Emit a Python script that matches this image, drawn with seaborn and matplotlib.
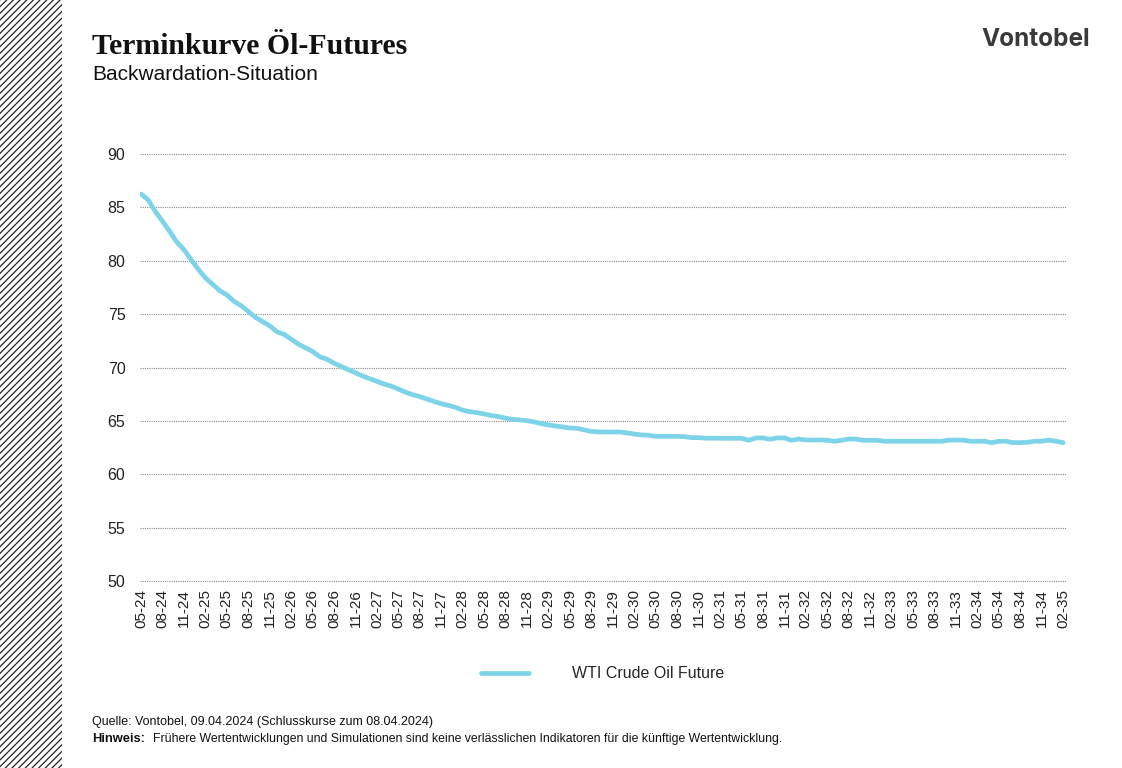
import matplotlib
matplotlib.use("Agg")
import matplotlib.pyplot as plt
import matplotlib.patches as mpatches
import seaborn as sns
import pandas as pd
import numpy as np

# ---- data ----
months = [p.strftime("%m-%y") for p in pd.period_range("2024-05", "2035-02", freq="M")]
wti = [
    86.25, 85.7, 84.6, 83.7, 82.75, 81.75, 81.04, 80.1, 79.2, 78.4,
    77.8, 77.2, 76.8, 76.2, 75.8, 75.25, 74.7, 74.3, 73.9, 73.35,
    73.1, 72.65, 72.2, 71.85, 71.5, 71.0, 70.78, 70.4, 70.1, 69.8,
    69.5, 69.2, 68.95, 68.7, 68.45, 68.25, 67.98, 67.68, 67.45, 67.27,
    67.05, 66.83, 66.6, 66.45, 66.27, 66.0, 65.86, 65.77, 65.65, 65.5,
    65.4, 65.25, 65.15, 65.08, 65.02, 64.9, 64.74, 64.62, 64.52, 64.43,
    64.33, 64.3, 64.15, 64.02, 63.96, 63.96, 63.96, 63.96, 63.87, 63.77,
    63.68, 63.65, 63.55, 63.55, 63.55, 63.55, 63.52, 63.43, 63.43, 63.38,
    63.37, 63.37, 63.37, 63.37, 63.37, 63.18, 63.4, 63.4, 63.28, 63.4,
    63.4, 63.18, 63.3, 63.21, 63.21, 63.21, 63.18, 63.09, 63.18, 63.3,
    63.3, 63.18, 63.18, 63.18, 63.09, 63.09, 63.09, 63.09, 63.09, 63.09,
    63.09, 63.09, 63.09, 63.2, 63.2, 63.2, 63.09, 63.09, 63.09, 62.96,
    63.09, 63.09, 62.96, 62.96, 63.0, 63.09, 63.09, 63.2, 63.09, 62.96,
]
series_name = "WTI Crude Oil Future"
y_ticks = [50, 55, 60, 65, 70, 75, 80, 85, 90]

title = "Terminkurve Öl-Futures"
subtitle = "Backwardation-Situation"
source = "Quelle: Vontobel, 09.04.2024 (Schlusskurse zum 08.04.2024)"
note_bold = "Hinweis:"
note = "Frühere Wertentwicklungen und Simulationen sind keine verlässlichen Indikatoren für die künftige Wertentwicklung."

n = min(len(months), len(wti))
df = pd.DataFrame({"pos": np.arange(n), "month": months[:n], "value": wti[:n], "series": series_name})

# ---- style ----
sns.set_theme(style="white")
plt.rcParams["font.family"] = ["Liberation Sans", "DejaVu Sans"]
plt.rcParams["hatch.linewidth"] = 0.9
line_color = "#7DD3E7"

fig = plt.figure(figsize=(11.22, 7.68), dpi=100)
ax = fig.add_axes([140 / 1122, 1 - 581 / 768, (1066 - 140) / 1122, (581 - 154) / 768])

sns.lineplot(data=df, x="pos", y="value", hue="series", palette=[line_color],
             linewidth=3.4, ax=ax, legend=False)

ax.set_ylim(50, 90)
ax.set_xlim(-0.15, n - 1 + 0.4)
ax.set_yticks(y_ticks)
ax.set_yticklabels([str(v) for v in y_ticks], fontsize=11.5, color="#222222")
tick_pos = list(range(0, n, 3))
ax.set_xticks(tick_pos)
ax.set_xticklabels([months[i] for i in tick_pos], rotation=90, fontsize=11, color="#222222")
ax.tick_params(axis="x", length=0, pad=6)
ax.tick_params(axis="y", length=0, pad=10.5)
ax.set_xlabel("")
ax.set_ylabel("")
for s in ax.spines.values():
    s.set_visible(False)
ax.yaxis.grid(True, linestyle=(0, (1, 1)), color="#8a8a8a", linewidth=0.8)
ax.xaxis.grid(False)
ax.set_axisbelow(True)
for gl in ax.get_ygridlines():
    gl.set_clip_on(False)

# legend
handle = plt.Line2D([], [], color=line_color, linewidth=3.4)
fig.legend([handle], [series_name], loc="center", bbox_to_anchor=(0.5375, 1 - 674 / 768),
           frameon=False, fontsize=11.5, handlelength=3.0, handletextpad=2.7)

# hatched strip on the left
strip = mpatches.Rectangle((0, 0), 62 / 1122, 1, transform=fig.transFigure,
                           facecolor="white", edgecolor="#222222", hatch="/////",
                           linewidth=0, zorder=0)
fig.patches.append(strip)

# titles
fig.text(92 / 1122, 1 - 47 / 768, title, fontsize=21.4, fontweight="bold",
         family=["Liberation Serif", "DejaVu Serif"], va="center", ha="left", color="#111111")
fig.text(92 / 1122, 1 - 74 / 768, subtitle, fontsize=15, va="center", ha="left", color="#111111")
fig.text(1090 / 1122, 1 - 40 / 768, "Vontobel", fontsize=17.5, fontweight="bold",
         family=["Inter", "DejaVu Sans"], va="center", ha="right", color="#3a3a3a")

# footnotes
fig.text(92 / 1122, 1 - 722 / 768, source, fontsize=9, va="center", ha="left", color="#111111")
fig.text(92 / 1122, 1 - 739 / 768, note_bold, fontsize=9.3, fontweight="bold",
         va="center", ha="left", color="#111111")
fig.text(153 / 1122, 1 - 739 / 768, note, fontsize=8.82, va="center", ha="left", color="#111111")

fig.savefig("out.png", dpi=100)
